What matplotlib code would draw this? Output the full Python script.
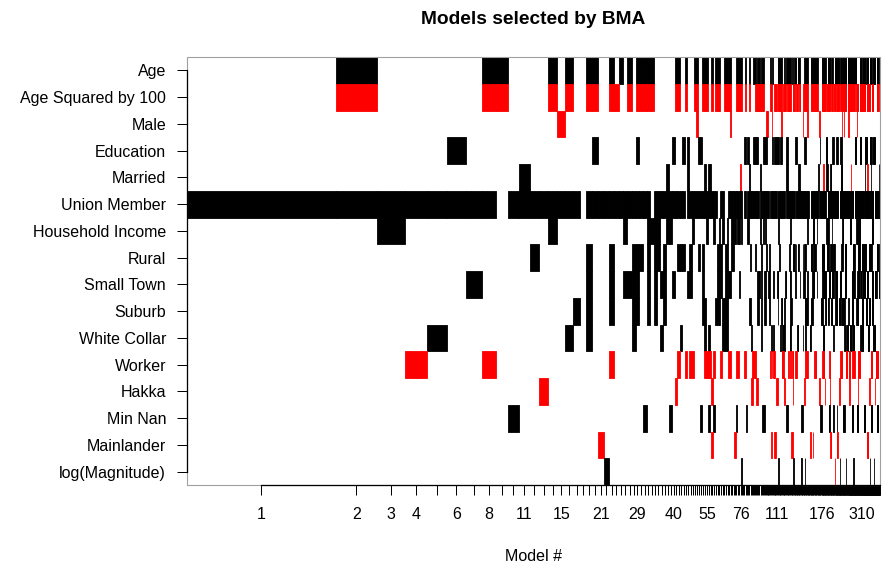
import numpy as np
import matplotlib
matplotlib.use("Agg")
import matplotlib.pyplot as plt
from matplotlib.patches import Rectangle

plt.rcParams["font.family"] = ["Liberation Sans", "DejaVu Sans"]

# variables, top row first
variables = ["Age", "Age Squared by 100", "Male", "Education", "Married",
             "Union Member", "Household Income", "Rural", "Small Town",
             "Suburb", "White Collar", "Worker", "Hakka", "Min Nan",
             "Mainlander", "log(Magnitude)"]

# posterior model probabilities (%)
post_prob = ([21.5, 5.92, 4.04, 3.17, 2.89, 2.74, 2.31, 2.02, 1.69, 1.63,
              1.53, 1.37, 1.33, 1.30, 1.18, 1.10, 1.01, 0.92, 0.88, 0.85,
              0.79, 0.75, 0.72, 0.69, 0.635, 0.62, 0.59, 0.577, 0.548, 0.534,
              0.52, 0.505, 0.49, 0.476, 0.462, 0.447, 0.447, 0.433, 0.418, 0.39,
              0.375, 0.361, 0.361, 0.346, 0.332, 0.332, 0.317, 0.317, 0.303, 0.303,
              0.289, 0.289, 0.274, 0.274, 0.274,
              0.274, 0.267, 0.267, 0.260, 0.253, 0.253, 0.245, 0.238, 0.238, 0.231,
              0.224, 0.224, 0.224, 0.216, 0.216, 0.209, 0.209, 0.202, 0.202, 0.195,
              0.188]
             + [0.180] * 8 + [0.159] * 8 + [0.144] * 8 + [0.127] * 10 + [0.121]
             + [0.115] * 19 + [0.101] * 20 + [0.084] * 25 + [0.079]
             + [0.061] * 34 + [0.045] * 40 + [0.032] * 59 + [0.029]
             + [0.026] * 100)

# models containing each variable ("a-b" = run of models)
age = ("2 8 9 14 16 19 20 23 25 27 29-33 41 42 45 49 50 53-55 58 60-62 65-69 "
       "73-77 80 83 87 88 90-92 94-96 103 106 112-116 120 123-128 130 133-135 "
       "138-140 147-152 158-160 162-165 167-169 177-185 191-196 199-202 207-219 "
       "224-226 230-242 249-267 270-285 301-308 317-326 336-346 354-363 "
       "373-381 392-399 408-410")
age_sq = ("2 8 9 14 16 19 20 23 24 27 29-33 41 42 45 49 50 53-55 58 60-62 65-69 "
          "73-77 80 83 88-96 103 104 108-110 112-116 119-121 124-128 131-133 "
          "136 137 140 141 146-152 158-160 162-165 167-169 177-185 189-192 195 "
          "196 199-202 205-208 211-219 224-226 230-242 249-267 270-277 286-292 "
          "301-313 317-326 339-353 364-372 392-399 408-410")
male = "15 50 69 99 100 105 116 145 152 172 228 236 250 287"
education = ("6 20 29 40 44 46 51 52 79 80 82 87-90 96-99 106 108-113 115 116 "
             "123 124 134-136 147-149 173 186-189 202-204 211-215 224-227 "
             "279-285 301-307 327-338 354-363 373-381 409 410")
married = ("11 38 46 54 56 57 76 83 93 123 124 139 140 171 180 187-190 197 198 "
           "225-228 262 325 341 360 407")
union = ("1-8 10-17 19-32 34-44 46-60 63 64 68-77 79 80 82-91 93-101 103-110 "
         "112-120 123-133 135-153 158-170 172-185 191-216 222-270 278-317 "
         "323-372 382-410")
hh_income = ("3 14 26 32-35 38 39 48 55 59 62 64 67 70-72 74 75 77 82 93 96 98 "
             "113 128 152 161-163 168 187-192 200 231-233 256-262 286-300 364-371")
rural = ("12 19 23 28-30 32 34 35 37 42-44 47 51 53 61-63 66 67 70 71 84 88 94 "
         "99 102 114 126 131-133 135 138 139 145 147-149 158-160 163-165 "
         "177-182 189-192 197-200 203-206 227-231 238-242 270-277 293-300 "
         "309-316 321-331 350-363 392-399 408-410")
small_town = ("7 19 23 26-29 32 34 36 37 40 46 47 53 61-63 66-69 75 90-92 94 97 98 "
              "101 102 107 111 112 121 122 127 128 134 141 146 147 152 160-163 168 "
              "178-186 193-196 201-204 209-213 222-226 238-242 264-267 270-277 "
              "290-297 304-308 317-326 339-344 364-372 382-391 404-410")
suburb = ("17 19 23 28 29 32 34 37 53 54 60-62 64-67 83 84 90 91 94 97 98 102 112 "
          "116 117 120 128 129 148-152 158-160 175-178 185 186 191 192 198-201 "
          "209-213 220-223 227-237 250 264-269 286-292 309-316 332-338 350-357 "
          "364-372")
white_collar = ("5 16 19 28 36 43 54 56 64-67 85 94 104 107 115 118-120 127 128 137 "
                "138 145 149 156 157 179-182 204 237 238 243-248 256-262 268-273 "
                "304-316 342-349 373-381")
worker = ("4 8 23 42 45 47 48 54-57 59 63 68 69 73 74 79 80 86-88 103 105 107 108 "
          "117-119 125 128 130 131 134-136 149-152 164-166 178-182 195 196 224-228 "
          "241-244 252-258 268-277 293-300 360-368 388-399")
hakka = "13 41 58 85 86 89 90 110 111 120 131 147 172 184 196 221 254 292 352 385"
min_nan = ("10 31 39 52 56 59 73 81 95-97 123 124 143 144 174-176 194 195 204 214 "
           "233-237 264-269 287-292 322-326 361-366 392-399")
mainlander = "21 58 72 104 108 109 129 130 157 161 197 198 214 215 340-345"
log_mag = "22 77 113 132 143 148 208 223 242 272 356 376"

# usual sign of each coefficient (+1 black, -1 red) and the exceptions
coef_sign = [1, -1, -1, 1, 1, 1, 1, 1, 1, 1, 1, -1, -1, 1, -1, 1]
married_neg = "76 180 262 341"
log_mag_neg = "208"

shown_labels = [1, 2, 3, 4, 6, 8, 11, 15, 21, 29, 40, 55, 76, 111, 176, 310]


def parse(spec):
    out = []
    for tok in spec.split():
        a, _, b = tok.partition("-")
        out.extend(range(int(a), int(b or a) + 1))
    return out


members = [age, age_sq, male, education, married, union, hh_income, rural,
           small_town, suburb, white_collar, worker, hakka, min_nan,
           mainlander, log_mag]
flips = {4: set(parse(married_neg)), 15: set(parse(log_mag_neg))}

prob = np.array(post_prob, dtype=float)
prob = prob / prob.sum()
edges = np.concatenate([[0.0], np.cumsum(prob)])
centers = (edges[:-1] + edges[1:]) / 2
n_models = len(prob)
nvar = len(variables)

fig = plt.figure(figsize=(8.82, 5.70), dpi=100)
ax = fig.add_axes([187 / 882, 1 - 485 / 570, 693 / 882, 428 / 570])

for i, spec in enumerate(members):
    row = nvar - 1 - i
    pos, neg = [], []
    for m in parse(spec):
        s = coef_sign[i]
        if m in flips.get(i, ()):
            s = -s
        (pos if s > 0 else neg).append((edges[m - 1], prob[m - 1]))
    for cells, col in ((pos, "black"), (neg, "#ff0000")):
        if cells:
            ax.broken_barh(cells, (row - 0.5, 1), facecolors=col,
                           edgecolors=col, linewidth=0.6, zorder=1)

ax.set_xlim(0, 1)
ax.set_ylim(-0.5, nvar - 0.5)

ax.set_yticks(np.arange(nvar))
ax.set_yticklabels(variables[::-1])
ax.set_xticks(centers)
ax.set_xticklabels([str(k) if k in shown_labels else ""
                    for k in range(1, n_models + 1)])

ax.tick_params(axis="both", direction="out", length=7.2, width=0.72,
               color="black", labelsize=11.5)
ax.tick_params(axis="y", pad=7.9)
ax.tick_params(axis="x", pad=8.3)

for side in ("top", "right"):
    ax.spines[side].set_visible(False)
ax.spines["left"].set_bounds(0, nvar - 1)
ax.spines["bottom"].set_bounds(centers[0], centers[-1])
for side in ("left", "bottom"):
    ax.spines[side].set_linewidth(0.9)
    ax.spines[side].set_color("black")
    ax.spines[side].set_zorder(2.5)

ax.add_patch(Rectangle((0, 0), 1, 1, transform=ax.transAxes, fill=False,
                       edgecolor="#a0a0a0", linewidth=0.8, zorder=2.2,
                       clip_on=False))

ax.set_xlabel("Model #", fontsize=11.5)
ax.xaxis.set_label_coords(0.5, -0.168)
ax.xaxis.label.set_va("center")

fig.text(533.5 / 882, 1 - 19 / 570, "Models selected by BMA", ha="center",
         va="center", fontsize=13.8, fontweight="bold")

fig.savefig("out.png", dpi=100)
